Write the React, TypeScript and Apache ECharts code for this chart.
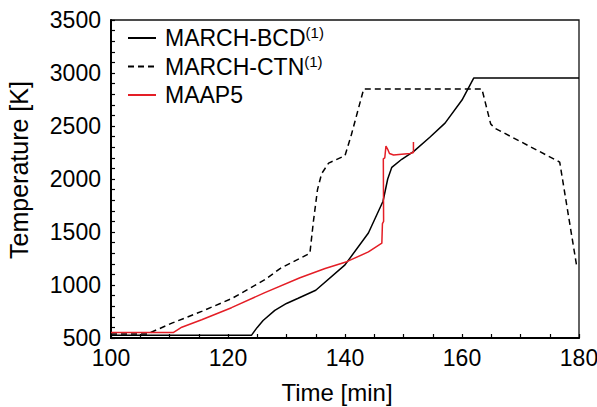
import React, { useEffect, useRef } from 'react';
import * as echarts from 'echarts';

// Time [min], Temperature [K]
const marchBcd: [number, number][] = [
  [100, 525], [124, 525], [125, 600], [126, 665], [128, 760], [130, 826], [132, 875],
  [135, 950], [140, 1190], [144, 1490], [146.5, 1790], [147.3, 2000], [148, 2110],
  [149.7, 2186], [151.7, 2258], [154.5, 2394], [157.1, 2527], [160, 2745], [162, 2952],
  [180, 2952],
];

const marchCtn: [number, number][] = [
  [100, 538], [106.2, 538], [110.4, 640], [115.5, 751], [120.6, 871], [126.3, 1050],
  [128.9, 1155], [134, 1300], [134.6, 1600], [135.3, 1900], [136, 2050], [137.2, 2150],
  [140, 2220], [141.1, 2420], [143.2, 2850], [163.4, 2850], [164.9, 2520], [165.6, 2480],
  [176.7, 2160], [179.6, 1180],
];

const maap5: [number, number][] = [
  [100, 552], [110.7, 552], [112.1, 602], [115.5, 672], [120.6, 786], [126.3, 928],
  [132.3, 1069], [136.6, 1155], [140.3, 1220], [144, 1312], [146.3, 1395], [146.4, 1580],
  [146.6, 1600], [146.55, 2190], [146.8, 2200], [147.0, 2310], [147.3, 2280], [147.6, 2240],
  [148.3, 2227], [151.1, 2240], [151.7, 2250], [151.7, 2350],
];

const seriesNames = ['MARCH-BCD', 'MARCH-CTN', 'MAAP5'];
const superscripts: Record<string, string> = { 'MARCH-BCD': '(1)', 'MARCH-CTN': '(1)', MAAP5: '' };
const xRange = [100, 180];
const xStep = 20;
const yRange = [500, 3500];
const yStep = 500;

const FONT = '"Liberation Sans", Arial, sans-serif';

export default function App() {
  const ref = useRef<HTMLDivElement>(null);
  useEffect(() => {
    if (!ref.current) return;
    const chart = echarts.init(ref.current, undefined, { renderer: 'svg' });
    chart.setOption({
      animation: false,
      backgroundColor: '#fff',
      textStyle: { fontFamily: FONT },
      grid: {
        left: 111, right: 18, top: 20, bottom: 69,
        containLabel: false, outerBoundsMode: 'none',
        show: true, borderColor: '#111', borderWidth: 1.3,
      },
      legend: {
        orient: 'vertical',
        left: 127,
        top: 25,
        padding: 0,
        itemWidth: 28,
        itemHeight: 14,
        itemGap: 2.5,
        itemStyle: { opacity: 0 },
        data: seriesNames,
        formatter: (name: string) => superscripts[name] ? `${name}{sup|${superscripts[name]}}` : name,
        textStyle: {
          fontFamily: FONT, fontSize: 23, color: '#000', lineHeight: 26, padding: [0, 0, 0, 4],
          rich: { sup: { fontFamily: FONT, fontSize: 15, color: '#000', verticalAlign: 'top', lineHeight: 14 } },
        },
      },
      xAxis: {
        type: 'value', min: xRange[0], max: xRange[1], interval: xStep,
        name: 'Time [min]', nameLocation: 'middle', nameGap: 42,
        nameTextStyle: { fontFamily: FONT, fontSize: 24, color: '#000', padding: [0, 16, 0, 0] },
        axisLine: { show: true, onZero: false, lineStyle: { color: '#000', width: 2 } },
        axisTick: { show: true, inside: true, length: 4, lineStyle: { color: '#000', width: 1.2 } },
        minorTick: { show: true, splitNumber: 4, length: 4, lineStyle: { color: '#000', width: 1.2 } },
        axisLabel: { fontFamily: FONT, fontSize: 23, color: '#000', margin: 8, formatter: (v: number) => String(v) },
        splitLine: { show: false },
      },
      yAxis: {
        type: 'value', min: yRange[0], max: yRange[1], interval: yStep,
        name: 'Temperature [K]', nameLocation: 'middle', nameGap: 80,
        nameTextStyle: { fontFamily: FONT, fontSize: 25, color: '#000', padding: [0, 0, 0, 18] },
        axisLine: { show: true, onZero: false, lineStyle: { color: '#000', width: 2 } },
        axisTick: { show: true, inside: true, length: 4, lineStyle: { color: '#000', width: 1.2 } },
        minorTick: { show: true, splitNumber: 5, length: 4, lineStyle: { color: '#000', width: 1.2 } },
        axisLabel: { fontFamily: FONT, fontSize: 23, color: '#000', margin: 10, formatter: (v: number) => String(v) },
        splitLine: { show: false },
      },
      series: [
        {
          name: 'MARCH-BCD', type: 'line', data: marchBcd, symbol: 'none', showSymbol: false,
          lineStyle: { color: '#000', width: 1.5 }, itemStyle: { color: '#000' },
        },
        {
          name: 'MARCH-CTN', type: 'line', data: marchCtn, symbol: 'none', showSymbol: false,
          lineStyle: { color: '#000', width: 1.5, type: [6, 4] }, itemStyle: { color: '#000' },
        },
        {
          name: 'MAAP5', type: 'line', data: maap5, symbol: 'none', showSymbol: false,
          lineStyle: { color: '#e41e26', width: 1.5 }, itemStyle: { color: '#e41e26' },
        },
      ],
    });
    return () => chart.dispose();
  }, []);
  return <div ref={ref} style={{ position: 'absolute', left: 0, top: 0, width: 597, height: 407 }} />;
}
